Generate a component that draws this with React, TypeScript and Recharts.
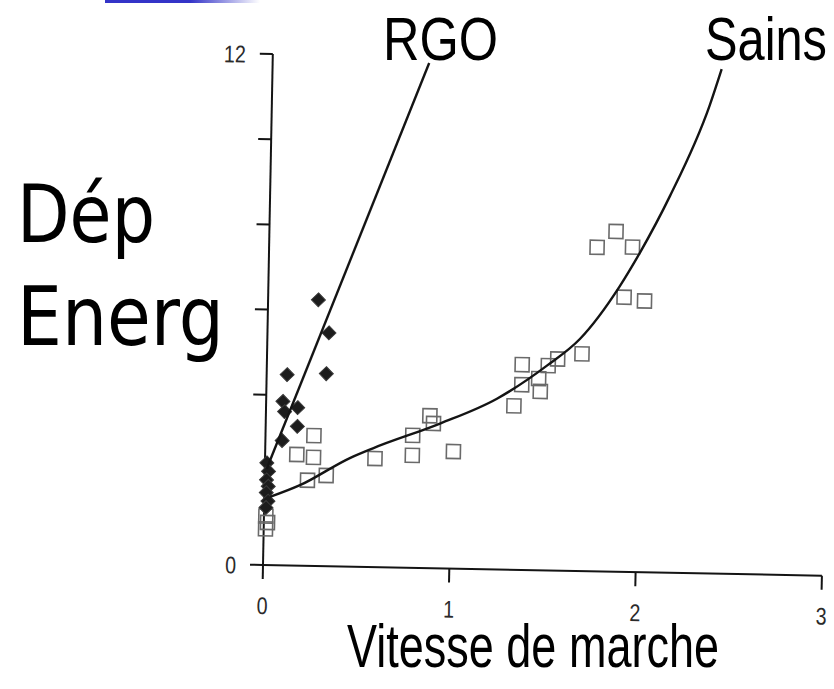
import { ScatterChart, Scatter, XAxis, YAxis } from 'recharts';

// axis ticks (only 0 and 12 carry a label on the y axis)
const xTicks = [0, 1, 2, 3];
const yTicks = [0, 4, 6, 8, 10, 12];
const yLabelled = [0, 12];

// RGO patients (filled diamonds)
const rgoX = [0.27, 0.33, 0.32, 0.11, 0.09, 0.1, 0.17, 0.17, 0.09, 0.01, 0.02, 0.01, 0.02, 0.01, 0.02, 0.01];
const rgoY = [6.25, 5.48, 4.52, 4.48, 3.85, 3.61, 3.71, 3.27, 2.93, 2.4, 2.2, 2.0, 1.85, 1.7, 1.5, 1.35];

// healthy subjects (open squares)
const sainsX = [0.26, 0.17, 0.26, 0.23, 0.33, 0.59, 0.79, 0.79, 0.88, 0.9, 1.01, 1.33, 1.37, 1.51, 1.56, 1.69, 1.76, 1.86, 1.95, 1.91, 2.02, 1.37, 1.46, 1.47, 0.01, 0.02, 0.01];
const sainsY = [3.06, 2.61, 2.55, 2.01, 2.13, 2.55, 3.11, 2.64, 3.58, 3.4, 2.75, 3.85, 4.82, 4.81, 4.97, 5.1, 7.61, 7.99, 7.63, 6.45, 6.37, 4.35, 4.5, 4.2, 1.15, 1.0, 0.85];

// fitted curves
const rgoFitX = [0.01, 0.84];
const rgoFitY = [2.26, 11.86];
const sainsFitX = [0.03, 0.19, 0.455, 0.578, 0.935, 1.238, 1.503, 1.677, 1.886, 1.99, 2.146, 2.35, 2.41];
const sainsFitY = [1.6, 1.89, 2.55, 2.79, 3.4, 4.01, 4.81, 5.45, 6.71, 7.5, 8.85, 11.0, 11.85];

const zip = (xs: number[], ys: number[]) => xs.map((x, i) => ({ x, y: ys[i] }));

const ink = '#141414';
const tickFamily = "'Liberation Sans', Arial, sans-serif";

// scanned tick digits are narrow: squeeze them horizontally
const xTick = (props: any) => {
  const { x, y, payload } = props;
  return (
    <text
      transform={`translate(${x},${y + 18}) scale(0.82,1)`}
      textAnchor="middle"
      fill="#2a2a2a"
      fontSize={24}
      fontFamily={tickFamily}
    >
      {payload.value}
    </text>
  );
};

const yTick = (props: any) => {
  const { x, y, payload } = props;
  if (!yLabelled.includes(payload.value)) return <g />;
  return (
    <text
      transform={`translate(${x},${y + 9}) scale(0.82,1)`}
      textAnchor="end"
      fill="#2a2a2a"
      fontSize={24}
      fontFamily={tickFamily}
    >
      {payload.value}
    </text>
  );
};

function Diamond(props: any) {
  const { cx, cy } = props;
  if (cx == null || cy == null) return <g />;
  const r = 7;
  return (
    <path
      d={`M${cx},${cy - r}L${cx + r},${cy}L${cx},${cy + r}L${cx - r},${cy}Z`}
      fill="#1c1c1c"
      stroke="#3a3a3a"
      strokeWidth={1}
    />
  );
}

function Square(props: any) {
  const { cx, cy } = props;
  if (cx == null || cy == null) return <g />;
  const s = 7;
  return <rect x={cx - s} y={cy - s} width={s * 2} height={s * 2} fill="none" stroke="#6a6a6a" strokeWidth={1.6} />;
}

const NoDot = () => <g />;

// big slide caption squeezed to the width it has in the slide
function Caption({ x, y, size, width, sx, family, children }: any) {
  return (
    <text
      transform={`translate(${x},${y}) scale(${sx},1)`}
      fontSize={size}
      fontFamily={family}
      textLength={width / sx}
      lengthAdjust="spacingAndGlyphs"
      fill="#000"
    >
      {children}
    </text>
  );
}

const dejavu = "'DejaVu Sans', sans-serif";
const liberation = "'Liberation Sans', Arial, sans-serif";

export default function App() {
  return (
    <div style={{ position: 'absolute', left: 0, top: 0, width: 834, height: 689, background: '#fff', overflow: 'hidden' }}>
      {/* slide template strip */}
      <div
        style={{
          position: 'absolute', left: 105, top: 0, width: 155, height: 3,
          background: 'linear-gradient(to right, #3434c8 0%, #3434c8 55%, #ffffff 100%)',
        }}
      />

      {/* the scanned plot is slightly tilted */}
      <div style={{ position: 'absolute', left: 0, top: 0, transform: 'rotate(1.1deg)', transformOrigin: '263px 565px' }}>
        <ScatterChart width={834} height={689} margin={{ top: 54, right: 12, left: 223, bottom: 94 }}>
          <XAxis
            type="number"
            dataKey="x"
            domain={[0, 3]}
            ticks={xTicks}
            tick={xTick}
            tickSize={14}
            tickMargin={17}
            height={30}
            axisLine={{ stroke: ink, strokeWidth: 2 }}
            tickLine={{ stroke: ink, strokeWidth: 2 }}
          />
          <YAxis
            type="number"
            dataKey="y"
            domain={[0, 12]}
            ticks={yTicks}
            tick={yTick}
            tickSize={13}
            tickMargin={14}
            width={40}
            axisLine={{ stroke: ink, strokeWidth: 2 }}
            tickLine={{ stroke: ink, strokeWidth: 2 }}
          />
          <Scatter data={zip(sainsX, sainsY)} shape={Square} isAnimationActive={false} />
          <Scatter data={zip(rgoX, rgoY)} shape={Diamond} isAnimationActive={false} />
          <Scatter
            data={zip(rgoFitX, rgoFitY)}
            shape={NoDot}
            line={{ stroke: ink, strokeWidth: 2.4 }}
            lineType="joint"
            isAnimationActive={false}
          />
          <Scatter
            data={zip(sainsFitX, sainsFitY)}
            shape={NoDot}
            line={{ stroke: ink, strokeWidth: 2.4 }}
            lineType="joint"
            lineJointType="monotoneX"
            isAnimationActive={false}
          />
        </ScatterChart>
      </div>

      {/* slide labels laid over the scan */}
      <svg width={834} height={689} style={{ position: 'absolute', left: 0, top: 0, pointerEvents: 'none' }}>
        <Caption x={17} y={242} size={81} width={138} sx={0.84} family={dejavu}>Dép</Caption>
        <Caption x={17} y={345} size={81} width={207} sx={0.87} family={dejavu}>Energ</Caption>
        <Caption x={347} y={667} size={62} width={372} sx={0.73} family={liberation}>Vitesse de marche</Caption>
        <Caption x={383} y={60} size={62} width={115} sx={0.81} family={liberation}>RGO</Caption>
        <Caption x={705} y={60} size={62} width={122} sx={0.79} family={liberation}>Sains</Caption>
      </svg>
    </div>
  );
}
